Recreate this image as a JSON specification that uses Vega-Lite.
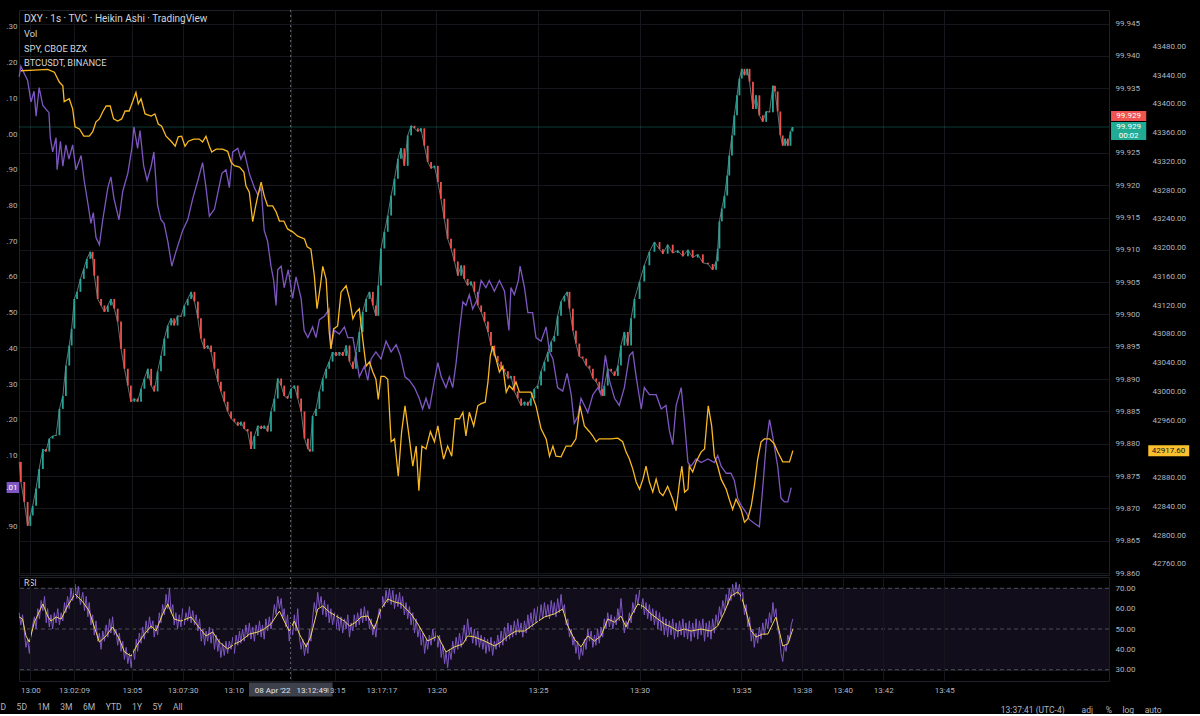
{
"$schema": "https://vega.github.io/schema/vega-lite/v6.json",
"background": "#000000",
"padding": {"left": 0, "top": 9, "right": 6, "bottom": 0},
"config": {
  "view": {"stroke": "#1e2127", "strokeWidth": 1},
  "font": "Roboto",
  "axis": {"labelFont": "Roboto", "labelFontSize": 8, "labelColor": "#b2b5be", "domain": false, "ticks": false, "gridColor": "#15171c", "gridWidth": 1, "title": null, "labelOverlap": false, "tickCount": 100},
  "title": {"font": "Roboto", "color": "#d1d4dc", "fontWeight": "normal"}
},
"spacing": 2,
"bounds": "flush",
"title": {"text": "D\u00a0\u00a0\u00a0\u00a0\u00a05D\u00a0\u00a0\u00a0\u00a0\u00a01M\u00a0\u00a0\u00a0\u00a0\u00a03M\u00a0\u00a0\u00a0\u00a0\u00a06M\u00a0\u00a0\u00a0\u00a0\u00a0YTD\u00a0\u00a0\u00a0\u00a0\u00a01Y\u00a0\u00a0\u00a0\u00a0\u00a05Y\u00a0\u00a0\u00a0\u00a0\u00a0All", "orient": "bottom", "anchor": "start", "frame": "bounds", "offset": -11, "fontSize": 8.5, "color": "#b2b5be", "fontWeight": "normal"},
"datasets": {
"dxy": [
{"t":-33,"o":99.8772,"c":99.8772},{"t":-28,"o":99.8772,"c":99.8741},{"t":-18,"o":99.8741,"c":99.8710},{"t":-8,"o":99.8710,"c":99.8673},{"t":0,"o":99.8673,"c":99.8689},{"t":7,"o":99.8689,"c":99.8704},{"t":17,"o":99.8704,"c":99.8731},{"t":26,"o":99.8731,"c":99.8761},{"t":37,"o":99.8761,"c":99.8792},{"t":46,"o":99.8792,"c":99.8788},{"t":56,"o":99.8788,"c":99.8808},{"t":66,"o":99.8808,"c":99.8812},{"t":76,"o":99.8812,"c":99.8813},{"t":86,"o":99.8813,"c":99.8854},{"t":96,"o":99.8854,"c":99.8874},{"t":105,"o":99.8874,"c":99.8921},{"t":115,"o":99.8921,"c":99.8952},{"t":122,"o":99.8952,"c":99.8978},{"t":130,"o":99.8978,"c":99.9024},{"t":138,"o":99.9024,"c":99.9035},{"t":148,"o":99.9035,"c":99.9055},{"t":158,"o":99.9055,"c":99.9071},{"t":167,"o":99.9071,"c":99.9086},{"t":177,"o":99.9086,"c":99.9097},{"t":184,"o":99.9097,"c":99.9086},{"t":189,"o":99.9086,"c":99.9060},{"t":199,"o":99.9060,"c":99.9024},{"t":209,"o":99.9024,"c":99.9014},{"t":219,"o":99.9014,"c":99.9004},{"t":229,"o":99.9004,"c":99.9014},{"t":238,"o":99.9014,"c":99.9024},{"t":248,"o":99.9024,"c":99.9009},{"t":258,"o":99.9009,"c":99.8989},{"t":268,"o":99.8989,"c":99.8947},{"t":278,"o":99.8947,"c":99.8916},{"t":288,"o":99.8916,"c":99.8890},{"t":297,"o":99.8890,"c":99.8865},{"t":307,"o":99.8865,"c":99.8870},{"t":317,"o":99.8870,"c":99.8865},{"t":327,"o":99.8865,"c":99.8885},{"t":337,"o":99.8885,"c":99.8901},{"t":347,"o":99.8901,"c":99.8916},{"t":357,"o":99.8916,"c":99.8890},{"t":366,"o":99.8890,"c":99.8881},{"t":376,"o":99.8881,"c":99.8912},{"t":386,"o":99.8912,"c":99.8936},{"t":396,"o":99.8936,"c":99.8963},{"t":406,"o":99.8963,"c":99.8983},{"t":416,"o":99.8983,"c":99.8994},{"t":425,"o":99.8994,"c":99.8983},{"t":435,"o":99.8983,"c":99.8998},{"t":445,"o":99.8998,"c":99.8997},{"t":455,"o":99.8997,"c":99.9014},{"t":465,"o":99.9014,"c":99.9024},{"t":475,"o":99.9024,"c":99.9035},{"t":485,"o":99.9035,"c":99.9020},{"t":495,"o":99.9020,"c":99.8994},{"t":504,"o":99.8994,"c":99.8963},{"t":514,"o":99.8963,"c":99.8947},{"t":524,"o":99.8947,"c":99.8952},{"t":534,"o":99.8952,"c":99.8942},{"t":544,"o":99.8942,"c":99.8916},{"t":554,"o":99.8916,"c":99.8896},{"t":563,"o":99.8896,"c":99.8881},{"t":573,"o":99.8881,"c":99.8865},{"t":583,"o":99.8865,"c":99.8850},{"t":593,"o":99.8850,"c":99.8839},{"t":603,"o":99.8839,"c":99.8834},{"t":613,"o":99.8834,"c":99.8828},{"t":622,"o":99.8828,"c":99.8834},{"t":632,"o":99.8834,"c":99.8823},{"t":642,"o":99.8823,"c":99.8819},{"t":652,"o":99.8819,"c":99.8792},{"t":662,"o":99.8792,"c":99.8812},{"t":672,"o":99.8812,"c":99.8828},{"t":682,"o":99.8828,"c":99.8823},{"t":691,"o":99.8823,"c":99.8828},{"t":701,"o":99.8828,"c":99.8819},{"t":711,"o":99.8819,"c":99.8850},{"t":721,"o":99.8850,"c":99.8870},{"t":731,"o":99.8870,"c":99.8901},{"t":741,"o":99.8901,"c":99.8890},{"t":750,"o":99.8890,"c":99.8874},{"t":760,"o":99.8874,"c":99.8870},{"t":770,"o":99.8870,"c":99.8885},{"t":780,"o":99.8885,"c":99.8890},{"t":790,"o":99.8890,"c":99.8870},{"t":800,"o":99.8870,"c":99.8850},{"t":810,"o":99.8850,"c":99.8808},{"t":820,"o":99.8808,"c":99.8792},{"t":826,"o":99.8792,"c":99.8788},{"t":834,"o":99.8788,"c":99.8843},{"t":844,"o":99.8843,"c":99.8854},{"t":854,"o":99.8854,"c":99.8881},{"t":864,"o":99.8881,"c":99.8901},{"t":874,"o":99.8901,"c":99.8916},{"t":883,"o":99.8916,"c":99.8927},{"t":893,"o":99.8927,"c":99.8942},{"t":903,"o":99.8942,"c":99.8936},{"t":913,"o":99.8936,"c":99.8942},{"t":923,"o":99.8942,"c":99.8936},{"t":933,"o":99.8936,"c":99.8952},{"t":943,"o":99.8952,"c":99.8927},{"t":953,"o":99.8927,"c":99.8916},{"t":962,"o":99.8916,"c":99.8942},{"t":972,"o":99.8942,"c":99.8973},{"t":982,"o":99.8973,"c":99.9004},{"t":992,"o":99.9004,"c":99.9024},{"t":1002,"o":99.9024,"c":99.9035},{"t":1012,"o":99.9035,"c":99.9014},{"t":1021,"o":99.9014,"c":99.8998},{"t":1028,"o":99.8998,"c":99.9045},{"t":1036,"o":99.9045,"c":99.9102},{"t":1046,"o":99.9102,"c":99.9128},{"t":1056,"o":99.9128,"c":99.9153},{"t":1066,"o":99.9153,"c":99.9184},{"t":1076,"o":99.9184,"c":99.9210},{"t":1086,"o":99.9210,"c":99.9241},{"t":1095,"o":99.9241,"c":99.9257},{"t":1105,"o":99.9257,"c":99.9230},{"t":1115,"o":99.9230,"c":99.9277},{"t":1125,"o":99.9277,"c":99.9292},{"t":1135,"o":99.9292,"c":99.9288},{"t":1145,"o":99.9288,"c":99.9283},{"t":1154,"o":99.9283,"c":99.9288},{"t":1164,"o":99.9288,"c":99.9261},{"t":1174,"o":99.9261,"c":99.9236},{"t":1184,"o":99.9236,"c":99.9226},{"t":1194,"o":99.9226,"c":99.9230},{"t":1204,"o":99.9230,"c":99.9205},{"t":1213,"o":99.9205,"c":99.9179},{"t":1223,"o":99.9179,"c":99.9148},{"t":1233,"o":99.9148,"c":99.9117},{"t":1243,"o":99.9117,"c":99.9102},{"t":1253,"o":99.9102,"c":99.9082},{"t":1263,"o":99.9082,"c":99.9060},{"t":1273,"o":99.9060,"c":99.9076},{"t":1282,"o":99.9076,"c":99.9055},{"t":1292,"o":99.9055,"c":99.9045},{"t":1302,"o":99.9045,"c":99.9051},{"t":1312,"o":99.9051,"c":99.9035},{"t":1322,"o":99.9035,"c":99.9014},{"t":1332,"o":99.9014,"c":99.9004},{"t":1342,"o":99.9004,"c":99.8989},{"t":1352,"o":99.8989,"c":99.8973},{"t":1361,"o":99.8973,"c":99.8952},{"t":1371,"o":99.8952,"c":99.8936},{"t":1381,"o":99.8936,"c":99.8927},{"t":1391,"o":99.8927,"c":99.8916},{"t":1401,"o":99.8916,"c":99.8912},{"t":1411,"o":99.8912,"c":99.8901},{"t":1420,"o":99.8901,"c":99.8905},{"t":1430,"o":99.8905,"c":99.8881},{"t":1440,"o":99.8881,"c":99.8870},{"t":1450,"o":99.8870,"c":99.8859},{"t":1460,"o":99.8859,"c":99.8865},{"t":1470,"o":99.8865,"c":99.8859},{"t":1479,"o":99.8859,"c":99.8870},{"t":1489,"o":99.8870,"c":99.8885},{"t":1499,"o":99.8885,"c":99.8890},{"t":1509,"o":99.8890,"c":99.8912},{"t":1519,"o":99.8912,"c":99.8927},{"t":1529,"o":99.8927,"c":99.8942},{"t":1539,"o":99.8942,"c":99.8958},{"t":1548,"o":99.8958,"c":99.8967},{"t":1558,"o":99.8967,"c":99.8998},{"t":1568,"o":99.8998,"c":99.9020},{"t":1578,"o":99.9020,"c":99.9029},{"t":1586,"o":99.9029,"c":99.9035},{"t":1593,"o":99.9035,"c":99.9009},{"t":1603,"o":99.9009,"c":99.8975},{"t":1612,"o":99.8975,"c":99.8955},{"t":1622,"o":99.8955,"c":99.8935},{"t":1632,"o":99.8935,"c":99.8932},{"t":1642,"o":99.8932,"c":99.8921},{"t":1652,"o":99.8921,"c":99.8916},{"t":1662,"o":99.8916,"c":99.8901},{"t":1672,"o":99.8901,"c":99.8896},{"t":1681,"o":99.8896,"c":99.8885},{"t":1691,"o":99.8885,"c":99.8874},{"t":1696,"o":99.8874,"c":99.8890},{"t":1706,"o":99.8890,"c":99.8916},{"t":1716,"o":99.8916,"c":99.8912},{"t":1726,"o":99.8912,"c":99.8905},{"t":1736,"o":99.8905,"c":99.8921},{"t":1745,"o":99.8921,"c":99.8952},{"t":1755,"o":99.8952,"c":99.8973},{"t":1765,"o":99.8973,"c":99.8952},{"t":1775,"o":99.8952,"c":99.8994},{"t":1785,"o":99.8994,"c":99.9024},{"t":1800,"o":99.9024,"c":99.9051},{"t":1814,"o":99.9051,"c":99.9076},{"t":1829,"o":99.9076,"c":99.9097},{"t":1844,"o":99.9097,"c":99.9112},{"t":1859,"o":99.9112,"c":99.9101},{"t":1869,"o":99.9101,"c":99.9094},{"t":1883,"o":99.9094,"c":99.9108},{"t":1898,"o":99.9108,"c":99.9095},{"t":1913,"o":99.9095,"c":99.9099},{"t":1928,"o":99.9099,"c":99.9090},{"t":1943,"o":99.9090,"c":99.9100},{"t":1957,"o":99.9100,"c":99.9088},{"t":1972,"o":99.9088,"c":99.9093},{"t":1987,"o":99.9093,"c":99.9080},{"t":2002,"o":99.9080,"c":99.9078},{"t":2016,"o":99.9078,"c":99.9069},{"t":2026,"o":99.9069,"c":99.9082},{"t":2031,"o":99.9082,"c":99.9102},{"t":2036,"o":99.9102,"c":99.9144},{"t":2043,"o":99.9144,"c":99.9164},{"t":2051,"o":99.9164,"c":99.9184},{"t":2059,"o":99.9184,"c":99.9215},{"t":2065,"o":99.9215,"c":99.9246},{"t":2073,"o":99.9246,"c":99.9277},{"t":2080,"o":99.9277,"c":99.9308},{"t":2088,"o":99.9308,"c":99.9339},{"t":2095,"o":99.9339,"c":99.9365},{"t":2102,"o":99.9365,"c":99.9380},{"t":2110,"o":99.9380,"c":99.9370},{"t":2118,"o":99.9370,"c":99.9380},{"t":2125,"o":99.9380,"c":99.9360},{"t":2135,"o":99.9360,"c":99.9318},{"t":2144,"o":99.9318,"c":99.9339},{"t":2154,"o":99.9339,"c":99.9308},{"t":2164,"o":99.9308,"c":99.9298},{"t":2174,"o":99.9298,"c":99.9314},{"t":2184,"o":99.9314,"c":99.9313},{"t":2194,"o":99.9313,"c":99.9354},{"t":2200,"o":99.9354,"c":99.9345},{"t":2208,"o":99.9345,"c":99.9314},{"t":2216,"o":99.9314,"c":99.9277},{"t":2223,"o":99.9277,"c":99.9261},{"t":2230,"o":99.9261,"c":99.9272},{"t":2238,"o":99.9272,"c":99.9261},{"t":2246,"o":99.9261,"c":99.9283},{"t":2252,"o":99.9283,"c":99.9290}
],
"spy": [
{"t":-33,"v":449.16},{"t":-28,"v":449.19},{"t":-18,"v":449.17},{"t":-8,"v":449.15},{"t":2,"v":449.09},{"t":11,"v":449.12},{"t":17,"v":449.05},{"t":26,"v":449.13},{"t":37,"v":449.08},{"t":46,"v":449.07},{"t":55,"v":449.06},{"t":59,"v":448.99},{"t":66,"v":448.95},{"t":76,"v":448.99},{"t":79,"v":448.90},{"t":89,"v":448.98},{"t":96,"v":448.91},{"t":105,"v":448.97},{"t":114,"v":448.93},{"t":125,"v":448.97},{"t":135,"v":448.90},{"t":150,"v":448.94},{"t":159,"v":448.87},{"t":171,"v":448.80},{"t":179,"v":448.75},{"t":186,"v":448.78},{"t":194,"v":448.71},{"t":204,"v":448.69},{"t":214,"v":448.76},{"t":229,"v":448.85},{"t":238,"v":448.88},{"t":247,"v":448.82},{"t":262,"v":448.76},{"t":273,"v":448.84},{"t":288,"v":448.89},{"t":300,"v":448.96},{"t":306,"v":449.02},{"t":317,"v":448.96},{"t":324,"v":449.01},{"t":335,"v":448.91},{"t":345,"v":448.87},{"t":357,"v":448.91},{"t":365,"v":448.95},{"t":376,"v":448.80},{"t":386,"v":448.76},{"t":395,"v":448.75},{"t":406,"v":448.70},{"t":418,"v":448.63},{"t":430,"v":448.67},{"t":450,"v":448.73},{"t":465,"v":448.76},{"t":480,"v":448.82},{"t":495,"v":448.87},{"t":509,"v":448.92},{"t":519,"v":448.85},{"t":529,"v":448.77},{"t":544,"v":448.79},{"t":566,"v":448.89},{"t":578,"v":448.90},{"t":588,"v":448.85},{"t":598,"v":448.95},{"t":613,"v":448.96},{"t":622,"v":448.93},{"t":632,"v":448.95},{"t":647,"v":448.89},{"t":662,"v":448.85},{"t":672,"v":448.83},{"t":682,"v":448.85},{"t":691,"v":448.73},{"t":701,"v":448.70},{"t":711,"v":448.63},{"t":719,"v":448.59},{"t":726,"v":448.52},{"t":731,"v":448.62},{"t":741,"v":448.63},{"t":750,"v":448.57},{"t":762,"v":448.62},{"t":775,"v":448.54},{"t":785,"v":448.60},{"t":800,"v":448.54},{"t":809,"v":448.45},{"t":820,"v":448.43},{"t":834,"v":448.46},{"t":844,"v":448.43},{"t":854,"v":448.48},{"t":869,"v":448.49},{"t":883,"v":448.51},{"t":888,"v":448.40},{"t":898,"v":448.45},{"t":913,"v":448.44},{"t":928,"v":448.46},{"t":938,"v":448.43},{"t":953,"v":448.43},{"t":962,"v":448.38},{"t":972,"v":448.32},{"t":987,"v":448.35},{"t":997,"v":448.31},{"t":1007,"v":448.37},{"t":1021,"v":448.39},{"t":1036,"v":448.37},{"t":1051,"v":448.42},{"t":1066,"v":448.39},{"t":1081,"v":448.41},{"t":1093,"v":448.38},{"t":1107,"v":448.32},{"t":1120,"v":448.31},{"t":1135,"v":448.29},{"t":1149,"v":448.26},{"t":1159,"v":448.23},{"t":1169,"v":448.26},{"t":1179,"v":448.23},{"t":1194,"v":448.31},{"t":1204,"v":448.36},{"t":1214,"v":448.32},{"t":1228,"v":448.29},{"t":1238,"v":448.32},{"t":1248,"v":448.29},{"t":1258,"v":448.36},{"t":1268,"v":448.45},{"t":1278,"v":448.53},{"t":1287,"v":448.52},{"t":1297,"v":448.55},{"t":1307,"v":448.51},{"t":1322,"v":448.54},{"t":1332,"v":448.59},{"t":1346,"v":448.57},{"t":1356,"v":448.59},{"t":1371,"v":448.56},{"t":1386,"v":448.59},{"t":1401,"v":448.56},{"t":1414,"v":448.45},{"t":1420,"v":448.57},{"t":1430,"v":448.55},{"t":1442,"v":448.59},{"t":1447,"v":448.63},{"t":1460,"v":448.57},{"t":1470,"v":448.50},{"t":1484,"v":448.50},{"t":1494,"v":448.43},{"t":1509,"v":448.42},{"t":1524,"v":448.46},{"t":1534,"v":448.39},{"t":1544,"v":448.37},{"t":1558,"v":448.29},{"t":1573,"v":448.28},{"t":1586,"v":448.33},{"t":1598,"v":448.27},{"t":1607,"v":448.19},{"t":1618,"v":448.21},{"t":1627,"v":448.26},{"t":1647,"v":448.22},{"t":1662,"v":448.27},{"t":1677,"v":448.29},{"t":1686,"v":448.27},{"t":1699,"v":448.38},{"t":1711,"v":448.31},{"t":1726,"v":448.26},{"t":1740,"v":448.24},{"t":1755,"v":448.29},{"t":1770,"v":448.38},{"t":1780,"v":448.39},{"t":1790,"v":448.32},{"t":1805,"v":448.23},{"t":1814,"v":448.29},{"t":1829,"v":448.27},{"t":1849,"v":448.27},{"t":1864,"v":448.23},{"t":1878,"v":448.24},{"t":1888,"v":448.17},{"t":1898,"v":448.13},{"t":1908,"v":448.24},{"t":1923,"v":448.29},{"t":1933,"v":448.19},{"t":1943,"v":448.08},{"t":1952,"v":448.07},{"t":1967,"v":448.09},{"t":1982,"v":448.08},{"t":2002,"v":448.09},{"t":2021,"v":448.08},{"t":2031,"v":448.10},{"t":2041,"v":448.07},{"t":2056,"v":448.05},{"t":2070,"v":448.05},{"t":2080,"v":448.03},{"t":2090,"v":447.98},{"t":2100,"v":447.96},{"t":2115,"v":447.94},{"t":2125,"v":447.92},{"t":2139,"v":447.91},{"t":2154,"v":447.90},{"t":2164,"v":448.01},{"t":2174,"v":448.13},{"t":2184,"v":448.20},{"t":2194,"v":448.15},{"t":2208,"v":448.07},{"t":2218,"v":447.98},{"t":2228,"v":447.97},{"t":2238,"v":447.97},{"t":2248,"v":448.01}
],
"btc": [
{"t":-28,"b":43446},{"t":12,"b":43447},{"t":51,"b":43448},{"t":71,"b":43444},{"t":86,"b":43430},{"t":96,"b":43425},{"t":100,"b":43403},{"t":115,"b":43407},{"t":125,"b":43393},{"t":132,"b":43368},{"t":145,"b":43365},{"t":158,"b":43355},{"t":174,"b":43355},{"t":184,"b":43361},{"t":194,"b":43375},{"t":204,"b":43379},{"t":214,"b":43389},{"t":224,"b":43397},{"t":236,"b":43397},{"t":246,"b":43379},{"t":258,"b":43376},{"t":270,"b":43379},{"t":280,"b":43390},{"t":292,"b":43390},{"t":302,"b":43403},{"t":312,"b":43416},{"t":319,"b":43400},{"t":327,"b":43407},{"t":339,"b":43386},{"t":357,"b":43383},{"t":368,"b":43386},{"t":378,"b":43372},{"t":388,"b":43369},{"t":401,"b":43355},{"t":416,"b":43348},{"t":428,"b":43341},{"t":437,"b":43354},{"t":447,"b":43355},{"t":457,"b":43341},{"t":467,"b":43348},{"t":483,"b":43351},{"t":499,"b":43351},{"t":509,"b":43347},{"t":519,"b":43355},{"t":529,"b":43341},{"t":536,"b":43333},{"t":549,"b":43337},{"t":568,"b":43337},{"t":583,"b":43334},{"t":593,"b":43319},{"t":603,"b":43314},{"t":618,"b":43312},{"t":631,"b":43305},{"t":637,"b":43286},{"t":647,"b":43277},{"t":657,"b":43236},{"t":664,"b":43254},{"t":672,"b":43272},{"t":682,"b":43291},{"t":691,"b":43272},{"t":701,"b":43258},{"t":716,"b":43258},{"t":726,"b":43250},{"t":736,"b":43237},{"t":749,"b":43237},{"t":760,"b":43226},{"t":775,"b":43222},{"t":790,"b":43216},{"t":810,"b":43212},{"t":818,"b":43201},{"t":829,"b":43198},{"t":839,"b":43161},{"t":847,"b":43115},{"t":857,"b":43147},{"t":864,"b":43174},{"t":874,"b":43156},{"t":883,"b":43083},{"t":888,"b":43059},{"t":896,"b":43087},{"t":908,"b":43091},{"t":918,"b":43138},{"t":933,"b":43147},{"t":943,"b":43129},{"t":953,"b":43101},{"t":962,"b":43110},{"t":972,"b":43115},{"t":982,"b":43073},{"t":992,"b":43035},{"t":1002,"b":43041},{"t":1012,"b":43027},{"t":1021,"b":43017},{"t":1028,"b":42989},{"t":1036,"b":43021},{"t":1046,"b":43021},{"t":1056,"b":43017},{"t":1066,"b":42930},{"t":1076,"b":42934},{"t":1087,"b":42882},{"t":1097,"b":42944},{"t":1107,"b":42980},{"t":1120,"b":42934},{"t":1130,"b":42896},{"t":1140,"b":42924},{"t":1148,"b":42862},{"t":1157,"b":42924},{"t":1169,"b":42920},{"t":1182,"b":42944},{"t":1194,"b":42930},{"t":1204,"b":42952},{"t":1214,"b":42924},{"t":1221,"b":42906},{"t":1233,"b":42924},{"t":1245,"b":42910},{"t":1255,"b":42962},{"t":1268,"b":42962},{"t":1278,"b":42971},{"t":1287,"b":42938},{"t":1297,"b":42971},{"t":1310,"b":42952},{"t":1322,"b":42980},{"t":1332,"b":42983},{"t":1344,"b":42985},{"t":1352,"b":43013},{"t":1359,"b":43049},{"t":1366,"b":43063},{"t":1376,"b":43045},{"t":1386,"b":43027},{"t":1396,"b":43035},{"t":1406,"b":42999},{"t":1415,"b":43008},{"t":1425,"b":43003},{"t":1435,"b":43013},{"t":1445,"b":42999},{"t":1460,"b":42999},{"t":1479,"b":42999},{"t":1494,"b":42980},{"t":1509,"b":42948},{"t":1524,"b":42934},{"t":1534,"b":42910},{"t":1544,"b":42924},{"t":1553,"b":42910},{"t":1568,"b":42909},{"t":1583,"b":42924},{"t":1598,"b":42924},{"t":1612,"b":42934},{"t":1624,"b":42980},{"t":1637,"b":42952},{"t":1652,"b":42944},{"t":1662,"b":42938},{"t":1672,"b":42930},{"t":1681,"b":42934},{"t":1696,"b":42934},{"t":1716,"b":42934},{"t":1736,"b":42935},{"t":1750,"b":42930},{"t":1760,"b":42916},{"t":1770,"b":42906},{"t":1780,"b":42892},{"t":1790,"b":42874},{"t":1800,"b":42864},{"t":1810,"b":42878},{"t":1819,"b":42896},{"t":1829,"b":42874},{"t":1839,"b":42860},{"t":1849,"b":42878},{"t":1859,"b":42860},{"t":1869,"b":42855},{"t":1883,"b":42868},{"t":1898,"b":42850},{"t":1908,"b":42834},{"t":1918,"b":42874},{"t":1925,"b":42896},{"t":1933,"b":42860},{"t":1943,"b":42864},{"t":1947,"b":42896},{"t":1957,"b":42888},{"t":1967,"b":42902},{"t":1982,"b":42916},{"t":1992,"b":42920},{"t":2003,"b":42980},{"t":2013,"b":42952},{"t":2021,"b":42910},{"t":2031,"b":42896},{"t":2041,"b":42878},{"t":2056,"b":42864},{"t":2065,"b":42850},{"t":2075,"b":42836},{"t":2085,"b":42850},{"t":2100,"b":42836},{"t":2110,"b":42818},{"t":2120,"b":42823},{"t":2130,"b":42841},{"t":2139,"b":42868},{"t":2149,"b":42906},{"t":2159,"b":42930},{"t":2169,"b":42934},{"t":2184,"b":42934},{"t":2198,"b":42927},{"t":2208,"b":42916},{"t":2223,"b":42902},{"t":2233,"b":42902},{"t":2243,"b":42902},{"t":2253,"b":42917.6}
],
"ma": [
{"t":-33,"m":55.9},{"t":-23,"m":54.9},{"t":-13,"m":46.6},{"t":-3,"m":43.6},{"t":12,"m":53.4},{"t":37,"m":62.3},{"t":51,"m":56.4},{"t":61,"m":53.9},{"t":76,"m":55.9},{"t":91,"m":54.9},{"t":110,"m":61.3},{"t":132,"m":67.2},{"t":155,"m":63.3},{"t":174,"m":58.8},{"t":189,"m":51.0},{"t":204,"m":43.6},{"t":224,"m":46.6},{"t":243,"m":51.0},{"t":263,"m":45.1},{"t":278,"m":38.7},{"t":298,"m":36.7},{"t":317,"m":42.6},{"t":337,"m":47.5},{"t":357,"m":51.5},{"t":371,"m":49.0},{"t":391,"m":57.4},{"t":406,"m":62.3},{"t":425,"m":54.9},{"t":445,"m":53.9},{"t":475,"m":55.9},{"t":495,"m":51.5},{"t":519,"m":46.6},{"t":539,"m":48.5},{"t":558,"m":43.6},{"t":583,"m":40.2},{"t":603,"m":42.6},{"t":622,"m":44.1},{"t":647,"m":47.5},{"t":672,"m":48.5},{"t":691,"m":50.0},{"t":711,"m":52.5},{"t":736,"m":58.8},{"t":750,"m":53.9},{"t":765,"m":49.0},{"t":780,"m":53.9},{"t":795,"m":47.5},{"t":815,"m":41.2},{"t":829,"m":46.6},{"t":849,"m":59.8},{"t":864,"m":61.3},{"t":883,"m":58.4},{"t":908,"m":55.9},{"t":928,"m":53.9},{"t":943,"m":51.5},{"t":962,"m":53.4},{"t":977,"m":55.9},{"t":997,"m":56.4},{"t":1016,"m":50.0},{"t":1036,"m":59.8},{"t":1056,"m":64.7},{"t":1076,"m":63.3},{"t":1095,"m":62.5},{"t":1125,"m":57.4},{"t":1145,"m":52.5},{"t":1174,"m":44.1},{"t":1204,"m":46.6},{"t":1228,"m":38.7},{"t":1253,"m":41.2},{"t":1278,"m":42.6},{"t":1292,"m":46.6},{"t":1312,"m":46.1},{"t":1342,"m":44.1},{"t":1371,"m":41.7},{"t":1391,"m":43.6},{"t":1411,"m":46.6},{"t":1435,"m":49.0},{"t":1460,"m":49.0},{"t":1489,"m":52.5},{"t":1519,"m":55.9},{"t":1548,"m":57.4},{"t":1573,"m":59.8},{"t":1588,"m":51.5},{"t":1607,"m":45.1},{"t":1627,"m":41.2},{"t":1647,"m":46.6},{"t":1667,"m":44.1},{"t":1686,"m":46.6},{"t":1706,"m":54.9},{"t":1726,"m":53.4},{"t":1745,"m":56.4},{"t":1760,"m":51.0},{"t":1775,"m":56.4},{"t":1795,"m":62.3},{"t":1814,"m":60.8},{"t":1834,"m":57.4},{"t":1854,"m":54.9},{"t":1873,"m":52.5},{"t":1893,"m":51.0},{"t":1913,"m":49.0},{"t":1932,"m":50.0},{"t":1952,"m":49.0},{"t":1982,"m":50.0},{"t":2011,"m":49.0},{"t":2031,"m":51.5},{"t":2051,"m":58.4},{"t":2070,"m":66.2},{"t":2090,"m":68.2},{"t":2100,"m":66.2},{"t":2115,"m":58.4},{"t":2130,"m":49.0},{"t":2144,"m":46.1},{"t":2164,"m":47.5},{"t":2179,"m":47.5},{"t":2203,"m":55.9},{"t":2223,"m":41.7},{"t":2238,"m":42.6},{"t":2253,"m":50.0}
],
"rsi": [
{"t":-33,"r":58},{"t":-28,"r":52},{"t":-23,"r":57},{"t":-18,"r":49},{"t":-13,"r":41},{"t":-8,"r":45},{"t":-3,"r":38},{"t":2,"r":47},{"t":7,"r":52},{"t":12,"r":56},{"t":17,"r":50},{"t":22,"r":60},{"t":27,"r":55},{"t":32,"r":64},{"t":37,"r":59},{"t":42,"r":66},{"t":47,"r":53},{"t":51,"r":60},{"t":56,"r":51},{"t":61,"r":57},{"t":66,"r":50},{"t":71,"r":58},{"t":76,"r":53},{"t":81,"r":60},{"t":86,"r":52},{"t":91,"r":58},{"t":96,"r":54},{"t":101,"r":63},{"t":105,"r":58},{"t":110,"r":66},{"t":115,"r":60},{"t":120,"r":70},{"t":125,"r":64},{"t":132,"r":72},{"t":137,"r":65},{"t":142,"r":71},{"t":148,"r":62},{"t":155,"r":68},{"t":160,"r":59},{"t":165,"r":66},{"t":170,"r":56},{"t":174,"r":63},{"t":179,"r":52},{"t":184,"r":57},{"t":189,"r":47},{"t":194,"r":54},{"t":199,"r":44},{"t":204,"r":48},{"t":209,"r":40},{"t":214,"r":49},{"t":219,"r":44},{"t":224,"r":52},{"t":229,"r":46},{"t":234,"r":55},{"t":238,"r":48},{"t":243,"r":56},{"t":248,"r":47},{"t":253,"r":50},{"t":258,"r":42},{"t":263,"r":48},{"t":268,"r":39},{"t":273,"r":44},{"t":278,"r":35},{"t":283,"r":41},{"t":288,"r":33},{"t":293,"r":38},{"t":298,"r":31},{"t":303,"r":40},{"t":308,"r":35},{"t":313,"r":45},{"t":317,"r":39},{"t":322,"r":48},{"t":327,"r":43},{"t":332,"r":51},{"t":337,"r":45},{"t":342,"r":54},{"t":347,"r":48},{"t":352,"r":56},{"t":357,"r":50},{"t":362,"r":54},{"t":366,"r":46},{"t":371,"r":52},{"t":376,"r":47},{"t":381,"r":58},{"t":386,"r":53},{"t":391,"r":62},{"t":396,"r":57},{"t":401,"r":67},{"t":406,"r":60},{"t":411,"r":70},{"t":416,"r":58},{"t":421,"r":62},{"t":425,"r":52},{"t":430,"r":58},{"t":435,"r":50},{"t":440,"r":57},{"t":445,"r":51},{"t":450,"r":60},{"t":455,"r":52},{"t":460,"r":58},{"t":465,"r":54},{"t":470,"r":61},{"t":475,"r":53},{"t":480,"r":59},{"t":485,"r":52},{"t":490,"r":57},{"t":495,"r":49},{"t":500,"r":55},{"t":505,"r":44},{"t":510,"r":50},{"t":515,"r":42},{"t":519,"r":49},{"t":524,"r":44},{"t":529,"r":51},{"t":534,"r":43},{"t":539,"r":50},{"t":544,"r":40},{"t":549,"r":47},{"t":554,"r":39},{"t":558,"r":45},{"t":563,"r":36},{"t":568,"r":43},{"t":573,"r":37},{"t":578,"r":44},{"t":583,"r":38},{"t":588,"r":44},{"t":593,"r":40},{"t":598,"r":46},{"t":603,"r":38},{"t":608,"r":47},{"t":613,"r":42},{"t":618,"r":49},{"t":622,"r":43},{"t":627,"r":50},{"t":632,"r":44},{"t":637,"r":52},{"t":642,"r":46},{"t":647,"r":53},{"t":652,"r":45},{"t":657,"r":51},{"t":662,"r":44},{"t":667,"r":52},{"t":672,"r":47},{"t":677,"r":54},{"t":682,"r":46},{"t":686,"r":52},{"t":691,"r":45},{"t":696,"r":55},{"t":701,"r":49},{"t":706,"r":56},{"t":711,"r":50},{"t":716,"r":55},{"t":721,"r":62},{"t":726,"r":57},{"t":731,"r":66},{"t":736,"r":60},{"t":741,"r":65},{"t":746,"r":55},{"t":750,"r":60},{"t":755,"r":51},{"t":760,"r":57},{"t":765,"r":44},{"t":770,"r":52},{"t":775,"r":47},{"t":780,"r":57},{"t":785,"r":49},{"t":790,"r":60},{"t":795,"r":46},{"t":800,"r":40},{"t":805,"r":45},{"t":810,"r":37},{"t":815,"r":43},{"t":820,"r":38},{"t":825,"r":50},{"t":829,"r":44},{"t":834,"r":55},{"t":839,"r":63},{"t":844,"r":58},{"t":849,"r":68},{"t":854,"r":61},{"t":859,"r":66},{"t":864,"r":57},{"t":869,"r":64},{"t":874,"r":56},{"t":879,"r":62},{"t":883,"r":53},{"t":888,"r":60},{"t":893,"r":52},{"t":898,"r":58},{"t":903,"r":50},{"t":908,"r":57},{"t":913,"r":49},{"t":918,"r":56},{"t":923,"r":48},{"t":928,"r":55},{"t":933,"r":50},{"t":938,"r":57},{"t":943,"r":46},{"t":948,"r":53},{"t":953,"r":49},{"t":957,"r":57},{"t":962,"r":51},{"t":967,"r":58},{"t":972,"r":52},{"t":977,"r":60},{"t":982,"r":53},{"t":987,"r":61},{"t":992,"r":54},{"t":997,"r":59},{"t":1002,"r":50},{"t":1007,"r":55},{"t":1012,"r":47},{"t":1016,"r":52},{"t":1021,"r":46},{"t":1026,"r":55},{"t":1031,"r":60},{"t":1036,"r":55},{"t":1041,"r":66},{"t":1046,"r":61},{"t":1051,"r":69},{"t":1056,"r":63},{"t":1061,"r":70},{"t":1066,"r":62},{"t":1071,"r":69},{"t":1076,"r":60},{"t":1081,"r":67},{"t":1086,"r":61},{"t":1091,"r":68},{"t":1095,"r":60},{"t":1100,"r":66},{"t":1105,"r":57},{"t":1110,"r":63},{"t":1115,"r":55},{"t":1120,"r":61},{"t":1125,"r":52},{"t":1130,"r":58},{"t":1135,"r":48},{"t":1140,"r":55},{"t":1145,"r":46},{"t":1150,"r":51},{"t":1155,"r":42},{"t":1160,"r":48},{"t":1165,"r":38},{"t":1170,"r":45},{"t":1174,"r":40},{"t":1179,"r":47},{"t":1184,"r":42},{"t":1189,"r":50},{"t":1194,"r":44},{"t":1199,"r":49},{"t":1204,"r":41},{"t":1209,"r":47},{"t":1214,"r":36},{"t":1219,"r":42},{"t":1224,"r":33},{"t":1228,"r":39},{"t":1233,"r":31},{"t":1238,"r":40},{"t":1243,"r":35},{"t":1248,"r":44},{"t":1253,"r":38},{"t":1258,"r":46},{"t":1263,"r":40},{"t":1268,"r":48},{"t":1273,"r":41},{"t":1278,"r":47},{"t":1282,"r":52},{"t":1287,"r":44},{"t":1292,"r":55},{"t":1297,"r":47},{"t":1302,"r":51},{"t":1307,"r":43},{"t":1312,"r":50},{"t":1317,"r":42},{"t":1322,"r":49},{"t":1327,"r":41},{"t":1332,"r":47},{"t":1337,"r":40},{"t":1342,"r":46},{"t":1346,"r":38},{"t":1351,"r":45},{"t":1356,"r":39},{"t":1361,"r":46},{"t":1366,"r":37},{"t":1371,"r":44},{"t":1376,"r":40},{"t":1381,"r":47},{"t":1386,"r":41},{"t":1391,"r":49},{"t":1396,"r":42},{"t":1401,"r":51},{"t":1406,"r":44},{"t":1411,"r":53},{"t":1416,"r":45},{"t":1420,"r":52},{"t":1425,"r":46},{"t":1430,"r":54},{"t":1435,"r":47},{"t":1440,"r":55},{"t":1445,"r":48},{"t":1450,"r":53},{"t":1455,"r":46},{"t":1460,"r":54},{"t":1465,"r":48},{"t":1470,"r":57},{"t":1474,"r":50},{"t":1479,"r":58},{"t":1484,"r":51},{"t":1489,"r":60},{"t":1494,"r":53},{"t":1499,"r":61},{"t":1504,"r":54},{"t":1509,"r":62},{"t":1514,"r":55},{"t":1519,"r":63},{"t":1524,"r":56},{"t":1529,"r":62},{"t":1534,"r":55},{"t":1539,"r":64},{"t":1544,"r":57},{"t":1548,"r":63},{"t":1553,"r":56},{"t":1558,"r":65},{"t":1563,"r":58},{"t":1568,"r":67},{"t":1573,"r":59},{"t":1578,"r":62},{"t":1583,"r":52},{"t":1588,"r":55},{"t":1593,"r":46},{"t":1598,"r":50},{"t":1603,"r":42},{"t":1607,"r":46},{"t":1612,"r":38},{"t":1617,"r":44},{"t":1622,"r":35},{"t":1627,"r":41},{"t":1632,"r":37},{"t":1637,"r":45},{"t":1642,"r":40},{"t":1647,"r":50},{"t":1652,"r":44},{"t":1657,"r":49},{"t":1662,"r":41},{"t":1667,"r":47},{"t":1671,"r":42},{"t":1676,"r":50},{"t":1681,"r":43},{"t":1686,"r":51},{"t":1691,"r":46},{"t":1696,"r":55},{"t":1701,"r":50},{"t":1706,"r":58},{"t":1711,"r":51},{"t":1716,"r":57},{"t":1721,"r":50},{"t":1726,"r":56},{"t":1731,"r":52},{"t":1736,"r":60},{"t":1740,"r":54},{"t":1745,"r":65},{"t":1750,"r":56},{"t":1755,"r":48},{"t":1760,"r":54},{"t":1765,"r":50},{"t":1770,"r":58},{"t":1775,"r":53},{"t":1780,"r":63},{"t":1785,"r":58},{"t":1790,"r":67},{"t":1795,"r":62},{"t":1800,"r":69},{"t":1805,"r":60},{"t":1810,"r":65},{"t":1814,"r":57},{"t":1819,"r":63},{"t":1824,"r":55},{"t":1829,"r":62},{"t":1834,"r":54},{"t":1839,"r":60},{"t":1844,"r":52},{"t":1849,"r":59},{"t":1854,"r":50},{"t":1859,"r":58},{"t":1864,"r":49},{"t":1869,"r":56},{"t":1873,"r":47},{"t":1878,"r":55},{"t":1883,"r":46},{"t":1888,"r":54},{"t":1893,"r":47},{"t":1898,"r":55},{"t":1903,"r":45},{"t":1908,"r":53},{"t":1913,"r":46},{"t":1918,"r":54},{"t":1923,"r":47},{"t":1928,"r":55},{"t":1932,"r":46},{"t":1937,"r":53},{"t":1942,"r":45},{"t":1947,"r":54},{"t":1952,"r":44},{"t":1957,"r":53},{"t":1962,"r":46},{"t":1967,"r":55},{"t":1972,"r":45},{"t":1977,"r":54},{"t":1982,"r":47},{"t":1987,"r":55},{"t":1992,"r":44},{"t":1997,"r":53},{"t":2002,"r":46},{"t":2006,"r":54},{"t":2011,"r":45},{"t":2016,"r":55},{"t":2021,"r":48},{"t":2026,"r":57},{"t":2031,"r":52},{"t":2036,"r":61},{"t":2041,"r":56},{"t":2046,"r":64},{"t":2051,"r":59},{"t":2056,"r":67},{"t":2061,"r":62},{"t":2065,"r":70},{"t":2070,"r":64},{"t":2075,"r":72},{"t":2080,"r":66},{"t":2085,"r":73},{"t":2090,"r":67},{"t":2095,"r":72},{"t":2100,"r":64},{"t":2105,"r":68},{"t":2110,"r":57},{"t":2115,"r":62},{"t":2120,"r":51},{"t":2125,"r":56},{"t":2130,"r":44},{"t":2135,"r":50},{"t":2139,"r":41},{"t":2144,"r":48},{"t":2149,"r":43},{"t":2154,"r":51},{"t":2159,"r":45},{"t":2164,"r":53},{"t":2169,"r":47},{"t":2174,"r":55},{"t":2179,"r":50},{"t":2184,"r":58},{"t":2189,"r":53},{"t":2194,"r":63},{"t":2198,"r":56},{"t":2203,"r":60},{"t":2208,"r":50},{"t":2213,"r":47},{"t":2218,"r":38},{"t":2223,"r":34},{"t":2228,"r":42},{"t":2233,"r":39},{"t":2238,"r":47},{"t":2243,"r":44},{"t":2248,"r":52},{"t":2253,"r":55}
]
},
"vconcat": [
{
  "width": 1090,
  "height": 565,
  "title": {"text": "DXY · 1s · TVC · Heikin Ashi · TradingView", "subtitle": ["Vol", "SPY, CBOE BZX", "BTCUSDT, BINANCE"], "anchor": "start", "orient": "top", "frame": "group", "offset": -59, "dx": 5, "fontSize": 10, "fontWeight": "normal", "color": "#d1d4dc", "subtitleFontSize": 9.3, "subtitleColor": "#d1d4dc", "subtitleLineHeight": 14.5, "subtitlePadding": 6},
  "resolve": {"scale": {"y": "independent"}, "axis": {"y": "independent"}},
  "layer": [
    {
      "data": {"values": [{"t": 769}]},
      "mark": {"type": "rule", "color": "#6a6d78", "strokeDash": [2, 3], "strokeWidth": 1},
      "encoding": {"x": {"field": "t", "type": "quantitative", "scale": {"domain": [-33.5, 3187], "nice": false, "zero": false}, "axis": {"values": [0, 129, 300, 450, 600, 769, 900, 1037, 1200, 1500, 1800, 2100, 2280, 2400, 2520, 2700], "labels": false, "grid": true, "tickCount": 100}}}
    },
    {
      "data": {"name": "dxy"},
      "layer": [
        {"mark": {"type": "line", "color": "#6d8a85", "strokeWidth": 1, "opacity": 0.85},
         "encoding": {"x": {"field": "t", "type": "quantitative"}, "y": {"field": "c", "type": "quantitative", "scale": {"domain": [99.8597, 99.9471], "nice": false, "zero": false}, "axis": {"orient": "right", "values": [99.86, 99.865, 99.87, 99.875, 99.88, 99.885, 99.89, 99.895, 99.9, 99.905, 99.91, 99.915, 99.92, 99.925, 99.935, 99.94, 99.945], "format": ".3f", "grid": true, "labelPadding": 6, "labelAlign": "left", "labelOverlap": false, "tickCount": 100}}}},
        {"mark": {"type": "rule", "strokeWidth": 1.8},
         "encoding": {"x": {"field": "t", "type": "quantitative"}, "y": {"field": "o", "type": "quantitative"}, "y2": {"field": "c"}, "color": {"condition": {"test": "datum.c >= datum.o", "value": "#26a69a"}, "value": "#ef5350"}}},
        {"data": {"values": [{"p": 99.929}]},
         "mark": {"type": "rule", "color": "#26a69a", "opacity": 0.35, "strokeWidth": 1},
         "encoding": {"y": {"field": "p", "type": "quantitative"}}},
        {"data": {"values": [{"p": 99.929}]},
         "mark": {"type": "rule", "color": "#f05350", "strokeWidth": 10, "yOffset": -11},
         "encoding": {"x": {"datum": 3193}, "x2": {"datum": 3297}, "y": {"field": "p", "type": "quantitative"}}},
        {"data": {"values": [{"p": 99.929}]},
         "mark": {"type": "rule", "color": "#22ab94", "strokeWidth": 18, "yOffset": 4},
         "encoding": {"x": {"datum": 3193}, "x2": {"datum": 3297}, "y": {"field": "p", "type": "quantitative"}}},
        {"data": {"values": [{"p": 99.929, "lab": "99.929"}]},
         "mark": {"type": "text", "color": "#ffffff", "fontSize": 8, "font": "Roboto", "align": "center", "baseline": "middle", "yOffset": -11},
         "encoding": {"x": {"datum": 3245}, "y": {"field": "p", "type": "quantitative"}, "text": {"field": "lab"}}},
        {"data": {"values": [{"p": 99.929, "lab": "99.929\n00:02"}]},
         "mark": {"type": "text", "color": "#ffffff", "fontSize": 8, "font": "Roboto", "align": "center", "baseline": "middle", "lineBreak": "\n", "lineHeight": 9, "yOffset": 0},
         "encoding": {"x": {"datum": 3245}, "y": {"field": "p", "type": "quantitative"}, "text": {"field": "lab"}}}
      ]
    },
    {
      "data": {"name": "spy"},
      "layer": [
        {"mark": {"type": "line", "color": "#7e57c2", "strokeWidth": 1.3},
         "encoding": {"x": {"field": "t", "type": "quantitative"}, "y": {"field": "v", "type": "quantitative", "scale": {"domain": [447.765, 449.3476], "nice": false, "zero": false}, "axis": {"orient": "left", "values": [447.9, 448.1, 448.2, 448.3, 448.4, 448.5, 448.6, 448.7, 448.8, 448.9, 449.0, 449.1, 449.2, 449.3], "labelExpr": "slice(format(datum.value, '.2f'), -3)", "labelPadding": 2, "minExtent": 18, "maxExtent": 18, "grid": false, "labelOverlap": false, "tickCount": 100}}}},
        {"data": {"values": [{"p": 448.01, "lab": ".01"}]},
         "mark": {"type": "rule", "color": "#7e57c2", "strokeWidth": 11},
         "encoding": {"x": {"datum": -70}, "x2": {"datum": -33.5}, "y": {"field": "p", "type": "quantitative"}}},
        {"data": {"values": [{"p": 448.01, "lab": ".01"}]},
         "mark": {"type": "text", "color": "#ffffff", "fontSize": 8, "font": "Roboto", "align": "right", "baseline": "middle"},
         "encoding": {"x": {"datum": -38}, "y": {"field": "p", "type": "quantitative"}, "text": {"field": "lab"}}}
      ]
    },
    {
      "data": {"name": "btc"},
      "layer": [
        {"mark": {"type": "line", "color": "#f9b824", "strokeWidth": 1.3},
         "encoding": {"x": {"field": "t", "type": "quantitative"}, "y": {"field": "b", "type": "quantitative", "scale": {"domain": [42744.7, 43530.5], "nice": false, "zero": false}, "axis": {"orient": "right", "offset": 37, "values": [42760, 42800, 42840, 42880, 42960, 43000, 43040, 43080, 43120, 43160, 43200, 43240, 43280, 43320, 43360, 43400, 43440, 43480], "format": ".2f", "labelPadding": 6, "labelAlign": "left", "grid": false, "labelOverlap": false, "tickCount": 100}}}},
        {"data": {"values": [{"p": 42917.6, "lab": "42917.60"}]},
         "mark": {"type": "rule", "color": "#fbc02d", "strokeWidth": 11},
         "encoding": {"x": {"datum": 3303}, "x2": {"datum": 3424}, "y": {"field": "p", "type": "quantitative"}}},
        {"data": {"values": [{"p": 42917.6, "lab": "42917.60"}]},
         "mark": {"type": "text", "color": "#131722", "fontSize": 8, "font": "Roboto", "align": "center", "baseline": "middle"},
         "encoding": {"x": {"datum": 3363}, "y": {"field": "p", "type": "quantitative"}, "text": {"field": "lab"}}}
      ]
    }
  ]
},
{
  "width": 1090,
  "height": 104,
  "title": {"text": "RSI", "anchor": "start", "frame": "group", "offset": -11, "dx": 5, "fontSize": 8.5, "fontWeight": "normal", "color": "#d1d4dc"},
  "layer": [
    {
      "data": {"values": [{"lo": 30, "hi": 70}]},
      "mark": {"type": "rect", "color": "#110d1b"},
      "encoding": {"y": {"field": "hi", "type": "quantitative", "scale": {"domain": [24.45, 75.55], "nice": false, "zero": false}, "axis": {"orient": "right", "values": [30, 40, 50, 60, 70], "format": ".2f", "grid": true, "labelPadding": 6, "labelAlign": "left", "labelOverlap": false, "tickCount": 100}}, "y2": {"field": "lo"}}
    },
    {
      "data": {"values": [{"lvl": 30}, {"lvl": 50}, {"lvl": 70}]},
      "mark": {"type": "rule", "color": "#4c4f59", "strokeDash": [4, 3], "strokeWidth": 1},
      "encoding": {"y": {"field": "lvl", "type": "quantitative"}}
    },
    {
      "data": {"name": "rsi"},
      "mark": {"type": "line", "color": "#7e57c2", "strokeWidth": 1},
      "encoding": {
        "x": {"field": "t", "type": "quantitative", "scale": {"domain": [-33.5, 3187], "nice": false, "zero": false},
              "axis": {"values": [0, 129, 300, 450, 600, 769, 900, 1037, 1200, 1500, 1800, 2100, 2280, 2400, 2520, 2700], "grid": true, "zindex": 1, "labelPadding": 5, "tickCount": 100,
                       "labelExpr": "datum.value == 769 ? \"08 Apr '22\u00a0\u00a0\u00a013:12:49\" : '13:' + pad(toString(floor(datum.value / 60)), 2, '0', 'left') + (datum.value % 60 ? ':' + pad(toString(datum.value % 60), 2, '0', 'left') : '')",
                       "labelColor": {"condition": {"test": "datum.value == 769", "value": "#e0e3eb"}, "value": "#b2b5be"},
                       "title": "13:37:41 (UTC-4)\u00a0\u00a0\u00a0\u00a0\u00a0\u00a0\u00a0\u00a0adj\u00a0\u00a0\u00a0\u00a0\u00a0\u00a0%\u00a0\u00a0\u00a0\u00a0\u00a0log\u00a0\u00a0\u00a0\u00a0\u00a0auto",
                       "titleFontSize": 8.5, "titleFontWeight": "normal", "titleColor": "#b2b5be", "titleFont": "Roboto", "titleAnchor": "end", "titleAlign": "right", "titleX": 1142, "titleY": 28, "titleBaseline": "middle"}},
        "y": {"field": "r", "type": "quantitative"}
      }
    },
    {
      "data": {"name": "ma"},
      "mark": {"type": "line", "color": "#f2d45c", "strokeWidth": 1},
      "encoding": {"x": {"field": "t", "type": "quantitative"}, "y": {"field": "m", "type": "quantitative"}}
    },
    {
      "data": {"values": [{"t": 769}]},
      "mark": {"type": "rule", "color": "#6a6d78", "strokeDash": [2, 3], "strokeWidth": 1},
      "encoding": {"x": {"field": "t", "type": "quantitative"}}
    },
    {
      "data": {"values": [{"lv": 20.3}]},
      "mark": {"type": "rule", "color": "#3d414c", "strokeWidth": 14},
      "encoding": {"x": {"datum": 646}, "x2": {"datum": 893}, "y": {"field": "lv", "type": "quantitative"}}
    }
  ]
}
]
}
